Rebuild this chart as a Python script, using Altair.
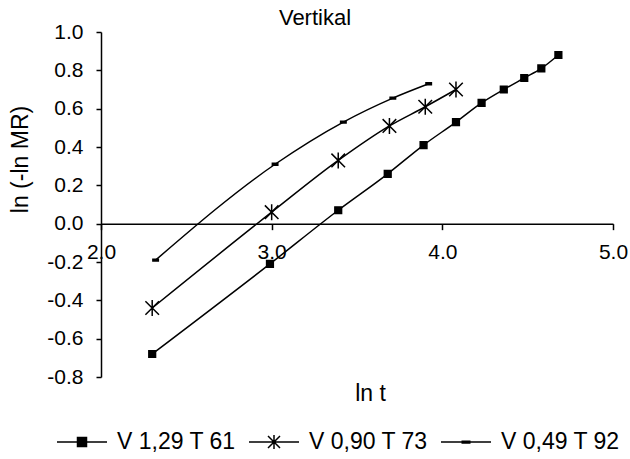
import altair as alt
import pandas as pd

series_names = ["V 1,29 T 61", "V 0,90 T 73", "V 0,49 T 92"]

x_s1 = [2.30, 2.99, 3.39, 3.68, 3.89, 4.08, 4.23, 4.36, 4.48, 4.58, 4.68]
y_s1 = [-0.68, -0.21, 0.07, 0.26, 0.41, 0.53, 0.63, 0.70, 0.76, 0.81, 0.88]

x_s2 = [2.30, 3.00, 3.39, 3.69, 3.90, 4.08]
y_s2 = [-0.44, 0.06, 0.33, 0.51, 0.61, 0.70]

x_s3 = [2.32, 3.02, 3.42, 3.71, 3.92]
y_s3 = [-0.19, 0.31, 0.53, 0.655, 0.73]

x_ticks = [2.0, 3.0, 4.0, 5.0]
y_ticks = [-0.8, -0.6, -0.4, -0.2, 0.0, 0.2, 0.4, 0.6, 0.8, 1.0]

rows = []
for name, xs, ys in zip(series_names, [x_s1, x_s2, x_s3], [y_s1, y_s2, y_s3]):
    for i, (xv, yv) in enumerate(zip(xs, ys)):
        rows.append({"x": xv, "y": yv, "series": name, "order": i})
df = pd.DataFrame(rows)

FONT = "Liberation Sans"
W, H = 512, 345
x_dom = [2.0, 5.0]
y_dom = [-0.8, 1.0]
zero_offset = -H * (0 - y_dom[0]) / (y_dom[1] - y_dom[0])

fmt = "datum.value < 0 ? '-' + format(-datum.value, '.1f') : format(datum.value, '.1f')"

x_enc = alt.X(
    "x:Q",
    scale=alt.Scale(domain=x_dom, nice=False, zero=False),
    axis=alt.Axis(
        values=x_ticks, labelExpr=fmt, offset=zero_offset, grid=False,
        tickSize=6, tickColor="black", tickWidth=1.5,
        domainColor="black", domainWidth=1.5,
        labelFont=FONT, labelFontSize=21, labelColor="black", labelPadding=12,
        labelFlush=False, labelOverlap=False,
        title="ln t", titleFont=FONT, titleFontSize=23, titleFontWeight="normal",
        titleColor="black", titleX=269, titleY=170, titleBaseline="middle",
        titleAlign="center", titleAnchor="start",
    ),
)
y_enc = alt.Y(
    "y:Q",
    scale=alt.Scale(domain=y_dom, nice=False, zero=False),
    axis=alt.Axis(
        values=y_ticks, labelExpr=fmt, grid=False,
        tickSize=5, tickColor="black", tickWidth=1.5,
        domainColor="black", domainWidth=1.5,
        labelFont=FONT, labelFontSize=21, labelColor="black", labelPadding=13,
        labelFlush=False, labelOverlap=False,
        title="ln (-ln MR)", titleFont=FONT, titleFontSize=23, titleFontWeight="normal",
        titleColor="black", titleX=-81, titleY=127, titleBaseline="middle",
        titleAlign="center", titleAnchor="start",
    ),
)

marker_paths = [
    "M-0.42,-0.42H0.42V0.42H-0.42Z",
    "M-0.85,-0.85L0.85,0.85M-0.85,0.85L0.85,-0.85M0,-1V1",
    "M-0.34,-0.11H0.34V0.11H-0.34Z",
]

# legend symbols built only from filled shapes (line segment + marker)
LINE = "M-1,-0.032H1V0.032H-1Z"
legend_paths = [
    LINE + "M-0.21,-0.21H0.21V0.21H-0.21Z",
    LINE
    + "M-0.03,-0.28H0.03V0.28H-0.03Z"
    + "M-0.261,-0.219L-0.219,-0.261L0.261,0.219L0.219,0.261Z"
    + "M-0.219,0.261L-0.261,0.219L0.219,-0.261L0.261,-0.219Z",
    LINE + "M-0.18,-0.065H0.18V0.065H-0.18Z",
]

lines = alt.Chart(df).mark_line(
    interpolate="monotone", color="black", strokeWidth=1.5
).encode(x=x_enc, y=y_enc, detail="series:N", order="order:Q")

points = alt.Chart(df).mark_point(
    filled=True, fill="black", stroke="black", strokeWidth=1.5, size=256, opacity=1
).encode(
    x=x_enc, y=y_enc,
    shape=alt.Shape("series:N", scale=alt.Scale(domain=series_names, range=marker_paths), legend=None),
)

legend_layer = alt.Chart(df).transform_filter("false").mark_point(
    filled=True, size=2500
).encode(
    x=x_enc, y=y_enc,
    fill=alt.value("black"),
    shape=alt.Shape(
        "series:N",
        scale=alt.Scale(domain=series_names, range=legend_paths),
        legend=alt.Legend(
            title=None, orient="none", direction="horizontal", columns=3,
            legendX=-45, legendY=384, padding=0,
            symbolSize=2500, symbolOpacity=1,
            symbolFillColor="black",
            labelFont=FONT, labelFontSize=23, labelColor="black", labelOffset=9,
            columnPadding=10, labelLimit=300,
        ),
    ),
)

chart = alt.layer(lines, points, legend_layer).resolve_scale(shape="independent").properties(
    width=W, height=H,
    autosize=alt.AutoSizeParams(type="none"),
    padding={"left": 101, "top": 32, "right": 17, "bottom": 82},
    background="white",
    title=alt.TitleParams(
        "Vertikal", font=FONT, fontSize=22, fontWeight="normal", color="black",
        anchor="middle", dx=-42, dy=19, offset=10,
    ),
).configure_view(stroke="transparent")

chart.save("out.html", embed_options={"renderer": "svg", "actions": False})
